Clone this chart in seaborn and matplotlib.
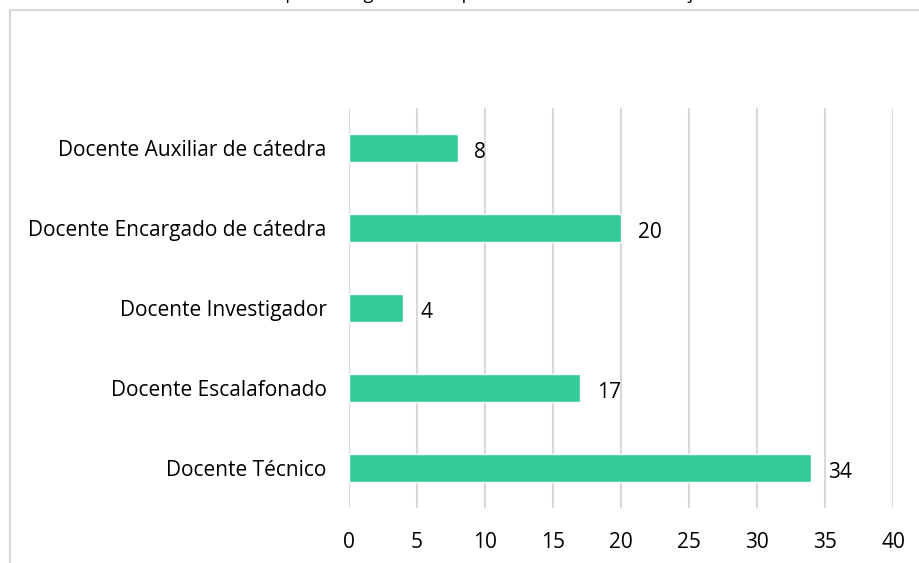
import numpy as np
import pandas as pd

import matplotlib.pyplot as plt
import matplotlib.patches as mpatches
import seaborn as sns

# ==================================================
# DATA
# ==================================================

TITLE = "Tipo de cargo docente para el desarrollo del trabajo"

categories = [
    "Docente Auxiliar de cátedra",
    "Docente Encargado de cátedra",
    "Docente Investigador",
    "Docente Escalafonado",
    "Docente Técnico",
]

values = [8, 20, 4, 17, 34]

x_ticks = [0, 5, 10, 15, 20, 25, 30, 35, 40]

BAR_COLOR = "#33CC99"
GRID_COLOR = "#D9D9D9"

df = pd.DataFrame({
    "Cargo": categories,
    "Cantidad": values
})

# ==================================================
# STYLE
# ==================================================

sns.set_style("white")
plt.rcParams["font.family"] = ["Open Sans", "DejaVu Sans"]
plt.rcParams["text.color"] = "#000000"

W, H = 919, 563
FS = 15

fig = plt.figure(figsize=(W / 100, H / 100), dpi=100)

# chart border (cut off on the right and bottom)
fig.patches.append(
    mpatches.Rectangle(
        (10 / W, -0.05),
        1.1,
        (H - 10) / H + 0.05,
        transform=fig.transFigure,
        fill=False,
        edgecolor=GRID_COLOR,
        linewidth=1.5
    )
)

# title, mostly above the visible area (as in the reference)
fig.text(
    0.531,
    1.0 + 1 / H,
    TITLE,
    ha="center",
    va="baseline",
    fontsize=13,
    color="#000000"
)

ax = fig.add_axes([349 / W, 55 / H, 544 / W, 400 / H])

sns.barplot(
    data=df,
    y="Cargo",
    x="Cantidad",
    orient="h",
    color=BAR_COLOR,
    saturation=1,
    width=0.35,
    ax=ax
)

ax.set_xlim(0, 40)
ax.set_ylim(len(categories) - 0.5, -0.5)
ax.set_xticks(x_ticks)

ax.xaxis.grid(True, color=GRID_COLOR, linewidth=1.5)
ax.yaxis.grid(False)
ax.set_axisbelow(True)

for s in ax.spines.values():
    s.set_visible(False)

ax.set_xlabel("")
ax.set_ylabel("")

ax.tick_params(axis="x", length=0, pad=17, labelsize=FS, labelcolor="#000000")
ax.tick_params(axis="y", length=0, pad=16, labelsize=FS, labelcolor="#000000")

# data labels
for container in ax.containers:
    labels = ax.bar_label(
        container,
        labels=[str(v) for v in values],
        padding=12,
        fontsize=FS,
        color="#000000"
    )
    for t in labels:
        t.xyann = (12, -3)

fig.savefig("out.png", dpi=100)
